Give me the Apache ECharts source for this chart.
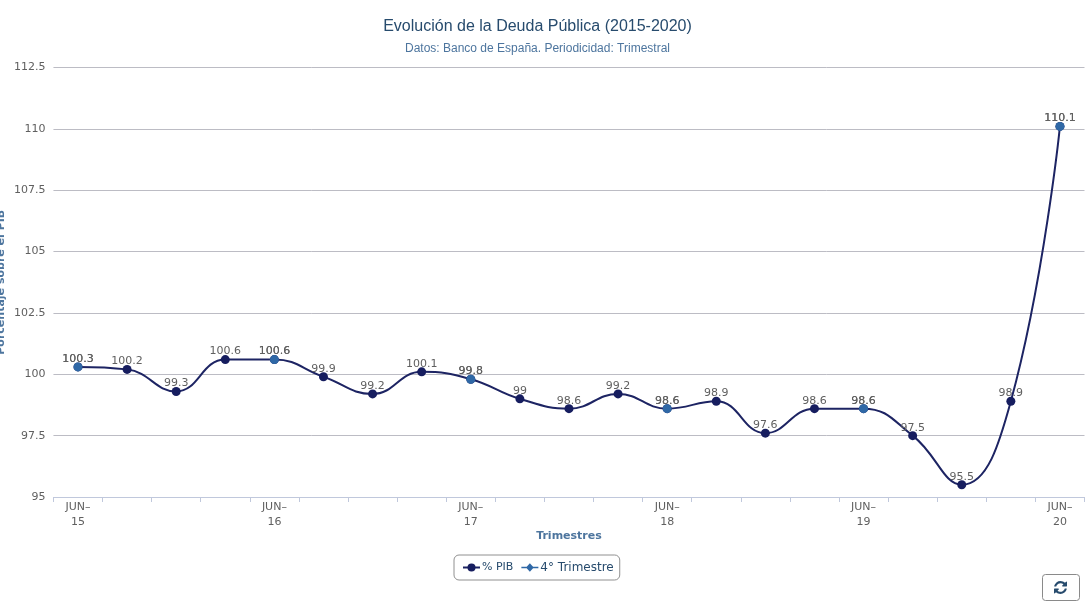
<!DOCTYPE html>
<html>
<head>
<meta charset="utf-8">
<title>Evolución de la Deuda Pública</title>
<style>html,body{margin:0;padding:0;background:#fff;overflow:hidden}#chart{width:1086px;height:611px}</style>
<script src="https://cdn.jsdelivr.net/npm/echarts@6/dist/echarts.min.js"></script>
</head>
<body>
<div id="chart"></div>
<script>
const titleText = 'Evolución de la Deuda Pública (2015-2020)';
const subtitleText = 'Datos: Banco de España. Periodicidad: Trimestral';
const categories = ['JUN-15','SEP-15','DIC-15','MAR-16','JUN-16','SEP-16','DIC-16','MAR-17','JUN-17','SEP-17','DIC-17','MAR-18','JUN-18','SEP-18','DIC-18','MAR-19','JUN-19','SEP-19','DIC-19','MAR-20','JUN-20'];
const deudaPib = [100.3,100.2,99.3,100.6,100.6,99.9,99.2,100.1,99.8,99,98.6,99.2,98.6,98.9,97.6,98.6,98.6,97.5,95.5,98.9,110.1];
const cuartoTrimestre = [100.3,null,null,null,100.6,null,null,null,99.8,null,null,null,98.6,null,null,null,98.6,null,null,null,110.1];

const syncIcon = 'path://M1511 928q0 5-1 7-64 268-268 434.5t-478 166.5q-146 0-282.5-55t-243.5-157l-129 129q-19 19-45 19t-45-19-19-45v-448q0-26 19-45t45-19h448q26 0 45 19t19 45-19 45l-137 137q71 66 161 102t187 36q134 0 250-65t186-179q11-17 53-117 8-23 30-23h192q13 0 22.5 9.5t9.5 22.5zm25-800v448q0 26-19 45t-45 19h-448q-26 0-45-19t-19-45 19-45l138-138q-148-137-349-137-134 0-250 65t-186 179q-11 17-53 117-8 23-30 23h-199q-13 0-22.5-9.5t-9.5-22.5v-7q65-268 270-434.5t480-166.5q146 0 284 55.5t245 156.5l130-129q19-19 45-19t45 19 19 45z';

const uiFont = '"DejaVu Sans", sans-serif';
const labelStyle = { show: true, position: 'top', distance: 0, offset: [0, 2], fontFamily: uiFont, fontSize: 11, color: '#606060' };

const chart = echarts.init(document.getElementById('chart'), null, { renderer: 'canvas' });
chart.setOption({
  animation: false,
  backgroundColor: '#ffffff',
  title: {
    text: titleText,
    subtext: subtitleText,
    left: 537.5,
    textAlign: 'center',
    top: 19,
    itemGap: 8,
    padding: 0,
    textStyle: { fontFamily: '"Liberation Sans", sans-serif', fontSize: 16, fontWeight: 'normal', color: '#274b6d' },
    subtextStyle: { fontFamily: '"Liberation Sans", sans-serif', fontSize: 12, color: '#4d759e' }
  },
  legend: {
    left: 454,
    top: 555,
    padding: [6.5, 6, 6.5, 8],
    itemGap: 8,
    itemWidth: 17,
    itemHeight: 10,
    borderColor: '#909090',
    borderWidth: 1,
    borderRadius: 5,
    textStyle: { fontFamily: uiFont, fontSize: 11, color: '#274b6d', padding: [0, 0, 0, -3] },
    data: [
      { name: '% PIB' },
      { name: '4° Trimestre', icon: 'path://M0 4.3H5L8 1 11 4.3H16V5.7H11L8 9 5 5.7H0Z', textStyle: { fontSize: 12 } }
    ]
  },
  toolbox: {
    left: 1054,
    top: 581,
    padding: 0,
    itemSize: 13,
    showTitle: false,
    iconStyle: { color: '#274b6d', borderWidth: 0 },
    emphasis: { iconStyle: { color: '#274b6d', borderWidth: 0 } },
    feature: { restore: { icon: syncIcon } }
  },
  grid: { left: 53.45, right: 1.5, top: 67.5, bottom: 114, containLabel: false, outerBoundsMode: 'none' },
  xAxis: {
    type: 'category',
    data: categories,
    boundaryGap: true,
    name: 'Trimestres',
    nameLocation: 'middle',
    nameGap: 34,
    nameMoveOverlap: false,
    nameTextStyle: { fontFamily: uiFont, fontSize: 11, fontWeight: 'bold', color: '#4d759e' },
    axisLine: { lineStyle: { color: '#c0c8dc', width: 1 } },
    axisTick: { show: true, length: 5, interval: 0, alignWithLabel: false, lineStyle: { color: '#c0c8dc' } },
    axisLabel: {
      interval: 3,
      margin: 3,
      lineHeight: 15,
      fontFamily: uiFont,
      fontSize: 11,
      color: '#606060',
      formatter: v => v.replace('-', '–\n')
    },
    splitLine: { show: false }
  },
  yAxis: {
    type: 'value',
    min: 95,
    max: 112.5,
    interval: 2.5,
    name: 'Porcentaje sobre el PIB',
    nameLocation: 'middle',
    nameGap: 47,
    nameMoveOverlap: false,
    nameTextStyle: { fontFamily: uiFont, fontSize: 11, fontWeight: 'bold', color: '#4d759e' },
    axisLine: { show: false },
    axisTick: { show: false },
    axisLabel: { margin: 8, padding: [2, 0, 0, 0], fontFamily: uiFont, fontSize: 11, color: '#606060' },
    splitLine: { lineStyle: { color: '#bcbcc4', width: 1 } }
  },
  series: [
    {
      name: '% PIB',
      type: 'line',
      data: deudaPib,
      smooth: 0.45,
      symbol: 'circle',
      symbolSize: 9,
      showAllSymbol: true,
      itemStyle: { color: '#161d5f' },
      lineStyle: { color: '#1d2463', width: 2 },
      label: labelStyle,
      z: 2
    },
    {
      name: '4° Trimestre',
      type: 'line',
      data: cuartoTrimestre,
      connectNulls: false,
      symbol: 'circle',
      symbolSize: 9,
      showAllSymbol: true,
      itemStyle: { color: '#2f68a6' },
      lineStyle: { color: '#2f68a6', width: 2 },
      label: labelStyle,
      z: 3
    }
  ],
  graphic: [
    {
      type: 'rect',
      z: 0,
      shape: { x: 1042.5, y: 574.5, width: 37, height: 26, r: 3 },
      style: { fill: '#ffffff', stroke: '#8a8a8a', lineWidth: 1 }
    }
  ]
});
</script>
</body>
</html>
